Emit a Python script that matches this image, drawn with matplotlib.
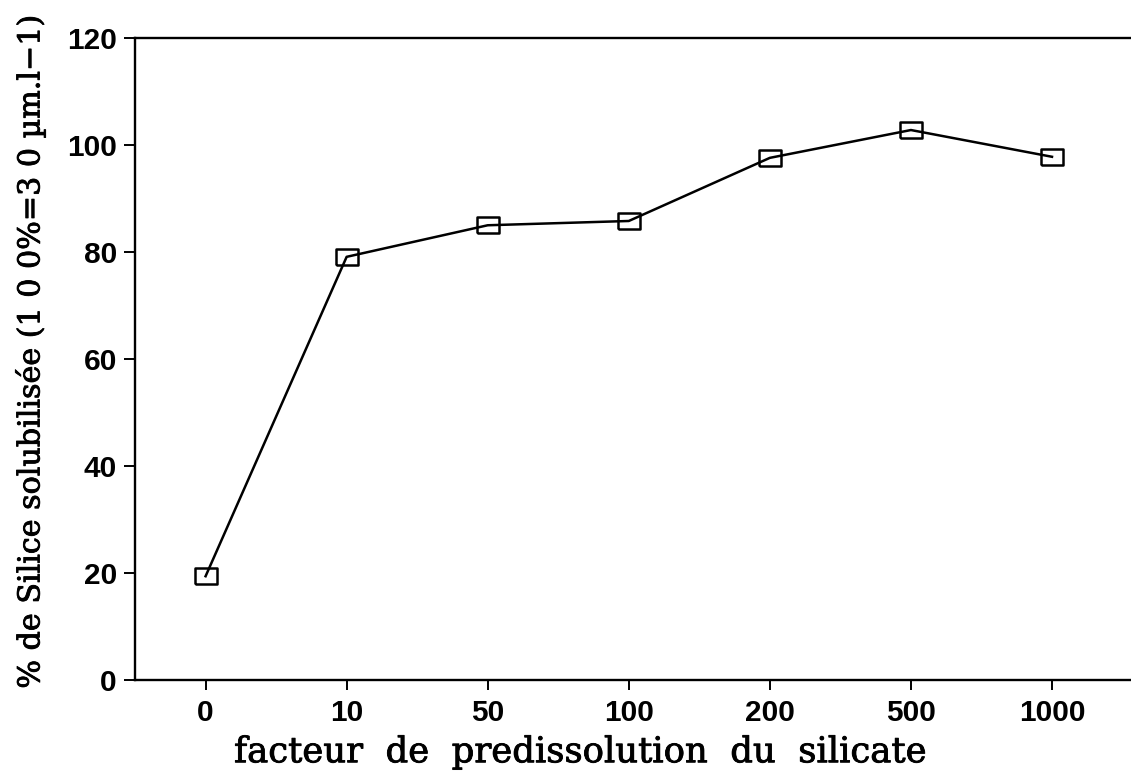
import matplotlib
matplotlib.use("Agg")
import matplotlib.pyplot as plt
import matplotlib.patheffects as pe

categories = ["0", "10", "50", "100", "200", "500", "1000"]
values = [19.4, 79.1, 85.0, 85.8, 97.6, 102.8, 97.8]

fig = plt.figure(figsize=(11.31, 7.71), dpi=100)
ax = fig.add_axes([0.1194, 0.118, 0.8806, 0.8327])

x = list(range(len(categories)))
rect = [(-1, -0.68), (1, -0.68), (1, 0.68), (-1, 0.68), (-1, -0.68)]
ax.plot(x, values, color="black", lw=1.8, marker=rect, markersize=16,
        markerfacecolor="none", markeredgecolor="black", markeredgewidth=1.8)

ax.set_xlim(-0.5, 6.56)
ax.set_ylim(0, 120)
ax.set_xticks(x)
ax.set_xticklabels(categories)
ax.set_yticks([0, 20, 40, 60, 80, 100, 120])

for s in ["left", "top", "bottom"]:
    ax.spines[s].set_linewidth(1.7)
ax.spines["right"].set_visible(False)

ax.tick_params(axis="y", length=8, width=1.4, pad=5, labelsize=21.5)
ax.tick_params(axis="x", length=7, width=1.4, pad=7, labelsize=21.5)
for lab in ax.get_xticklabels() + ax.get_yticklabels():
    lab.set_fontfamily("Liberation Sans")
    lab.set_fontweight("bold")

stroke = [pe.withStroke(linewidth=0.6, foreground="black")]
ax.set_xlabel("facteur  de  predissolution  du  silicate", family="DejaVu Serif",
              fontsize=25.5, path_effects=stroke)
ax.xaxis.set_label_coords(0.447, -0.086)
ax.set_ylabel("% de Silice solubilisée (1 0 0%=3 0 µm.l−1)", family="DejaVu Serif",
              fontsize=21.7, path_effects=stroke)
ax.yaxis.set_label_coords(-0.09, 0.512)

fig.savefig("out.png", dpi=100)
